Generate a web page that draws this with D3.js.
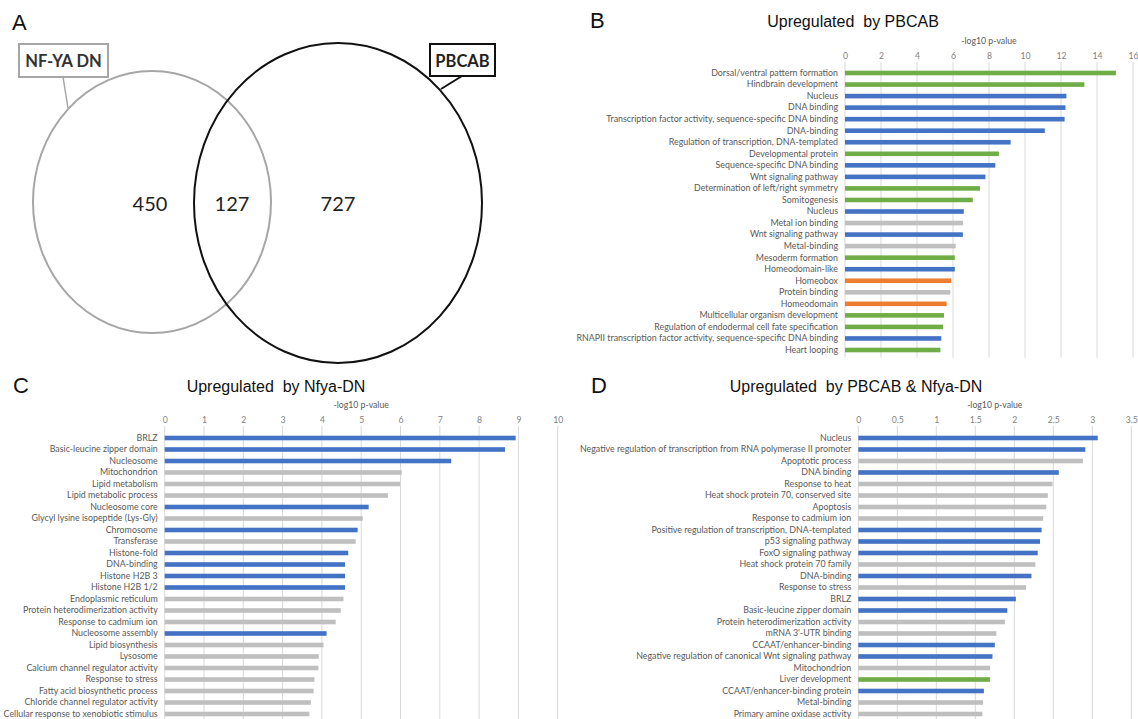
<!DOCTYPE html>
<html><head><meta charset="utf-8">
<script src="https://cdn.jsdelivr.net/npm/d3@7"></script>
<style>body{margin:0;background:#fff}svg{display:block}</style>
</head><body>
<svg id="c" width="1138" height="719"></svg>
<script>
// ---------- DATA ----------
const vennLabels = ["NF-YA DN", "PBCAB"];
const vennCounts = [450, 127, 727]; // only NF-YA DN, both, only PBCAB

const bCats = ["Dorsal/ventral pattern formation","Hindbrain development","Nucleus","DNA binding",
 "Transcription factor activity, sequence-specific DNA binding","DNA-binding","Regulation of transcription, DNA-templated",
 "Developmental protein","Sequence-specific DNA binding","Wnt signaling pathway","Determination of left/right symmetry",
 "Somitogenesis","Nucleus ","Metal ion binding","Wnt signaling pathway ","Metal-binding","Mesoderm formation",
 "Homeodomain-like","Homeobox","Protein binding","Homeodomain","Multicellular organism development",
 "Regulation of endodermal cell fate specification","RNAPII transcription factor activity, sequence-specific DNA binding","Heart looping"];
const bVals = [15.05,13.3,12.3,12.25,12.2,11.1,9.2,8.55,8.35,7.8,7.5,7.1,6.6,6.55,6.55,6.15,6.1,6.1,5.9,5.85,5.65,5.5,5.45,5.35,5.3];
const bGroups = ["g","g","b","b","b","b","b","g","b","b","g","g","b","x","b","x","g","b","o","x","o","g","g","b","g"];
const bTicks = [0,2,4,6,8,10,12,14,16];

const cCats = ["BRLZ","Basic-leucine zipper domain","Nucleosome","Mitochondrion","Lipid metabolism","Lipid metabolic process",
 "Nucleosome core","Glycyl lysine isopeptide (Lys-Gly)","Chromosome","Transferase","Histone-fold","DNA-binding",
 "Histone H2B 3","Histone H2B 1/2","Endoplasmic reticulum","Protein heterodimerization activity","Response to cadmium ion",
 "Nucleosome assembly","Lipid biosynthesis","Lysosome","Calcium channel regulator activity","Response to stress",
 "Fatty acid biosynthetic process","Chloride channel regulator activity","Cellular response to xenobiotic stimulus"];
const cVals = [8.93,8.66,7.29,6.03,5.99,5.68,5.19,5.04,4.91,4.86,4.67,4.59,4.59,4.59,4.55,4.48,4.35,4.12,4.04,3.92,3.91,3.81,3.79,3.72,3.68];
const cGroups = ["b","b","b","x","x","x","b","x","b","x","b","b","b","b","x","x","x","b","x","x","x","x","x","x","x"];
const cTicks = [0,1,2,3,4,5,6,7,8,9,10];

const dCats = ["Nucleus","Negative regulation of transcription from RNA polymerase II promoter","Apoptotic process","DNA binding",
 "Response to heat","Heat shock protein 70, conserved site","Apoptosis","Response to cadmium ion",
 "Positive regulation of transcription, DNA-templated","p53 signaling pathway","FoxO signaling pathway",
 "Heat shock protein 70 family","DNA-binding","Response to stress","BRLZ","Basic-leucine zipper domain",
 "Protein heterodimerization activity","mRNA 3'-UTR binding","CCAAT/enhancer-binding",
 "Negative regulation of canonical Wnt signaling pathway","Mitochondrion","Liver development",
 "CCAAT/enhancer-binding protein","Metal-binding","Primary amine oxidase activity"];
const dVals = [3.07,2.91,2.88,2.57,2.49,2.43,2.41,2.37,2.35,2.33,2.3,2.27,2.22,2.15,2.02,1.91,1.88,1.77,1.75,1.72,1.69,1.69,1.61,1.6,1.59];
const dGroups = ["b","b","x","b","x","x","x","x","b","b","b","x","b","x","b","b","x","x","b","b","x","g","b","x","x"];
const dTicks = [0,0.5,1,1.5,2,2.5,3,3.5];

// ---------- STYLE ----------
const groupColor = {b:"#4472C4", g:"#70AD47", o:"#ED7D31", x:"#BFBFBF"};
const svg = d3.select("#c");
const labelFont = "Lato, 'Open Sans', sans-serif";
const titleFont = "'Liberation Sans', Arial, sans-serif";

// ---------- PANEL A: VENN ----------
(function(){
  const g = svg.append("g");
  g.append("text").attr("x",12).attr("y",30).attr("font-family",titleFont).attr("font-size",22).attr("fill","#111").text("A");
  g.append("ellipse").attr("cx",152).attr("cy",202).attr("rx",119).attr("ry",131)
    .attr("fill","none").attr("stroke","#a6a6a6").attr("stroke-width",2);
  g.append("ellipse").attr("cx",338).attr("cy",203).attr("rx",144).attr("ry",160)
    .attr("fill","none").attr("stroke","#111").attr("stroke-width",2);
  g.append("line").attr("x1",63).attr("y1",77).attr("x2",68).attr("y2",108).attr("stroke","#a6a6a6").attr("stroke-width",1.5);
  g.append("line").attr("x1",462).attr("y1",76).attr("x2",441).attr("y2",89).attr("stroke","#111").attr("stroke-width",2);
  g.append("rect").attr("x",19).attr("y",44).attr("width",89).attr("height",33).attr("fill","#fff").attr("stroke","#a6a6a6").attr("stroke-width",2);
  g.append("text").attr("x",63.5).attr("y",66.5).attr("text-anchor","middle").attr("font-family",labelFont).attr("font-size",16.5).attr("font-weight","bold").attr("fill","#333").text(vennLabels[0]);
  g.append("rect").attr("x",430).attr("y",44).attr("width",65).attr("height",32).attr("fill","#fff").attr("stroke","#111").attr("stroke-width",2);
  g.append("text").attr("x",462.5).attr("y",66.5).attr("text-anchor","middle").attr("font-family",labelFont).attr("font-size",16.5).attr("font-weight","bold").attr("fill","#222").text(vennLabels[1]);
  const cx = [150, 232, 338];
  g.selectAll("text.cnt").data(vennCounts).enter().append("text").attr("class","cnt")
    .attr("x",(d,i)=>cx[i]).attr("y",211).attr("text-anchor","middle")
    .attr("font-family",labelFont).attr("font-size",20).attr("fill","#222").text(d=>d);
})();

// ---------- BAR PANELS ----------
function panel(o){
  const g = svg.append("g");
  const x = d3.scaleLinear().domain([0, o.max]).range([o.x0, o.x1]);
  const step = (o.yLast - o.yFirst)/(o.cats.length-1);
  const y = d3.scaleBand().domain(o.cats).range([o.yFirst - step/2, o.yLast + step/2]).padding(0);
  g.append("text").attr("x",o.letterX).attr("y",o.titleY+1).attr("font-family",titleFont).attr("font-size",22).attr("fill","#111").text(o.letter);
  g.append("text").attr("x",o.titleX).attr("y",o.titleY).attr("text-anchor","middle").attr("font-family",titleFont)
    .attr("font-size",16).attr("fill","#111").style("white-space","pre").attr("xml:space","preserve").text(o.title);
  g.append("text").attr("x",(o.x0+o.x1)/2).attr("y",o.tickY-11).attr("text-anchor","middle").attr("font-family",labelFont)
    .attr("font-size",8.7).attr("fill","#595959").text("-log10 p-value");
  const gridBottom = o.yLast + step/2 + 2;
  g.append("g").selectAll("line").data(o.ticks).enter().append("line")
    .attr("x1",d=>x(d)).attr("x2",d=>x(d)).attr("y1",o.tickY+7).attr("y2",gridBottom)
    .attr("stroke","#d9d9d9").attr("stroke-width",1);
  const ax = g.append("g").attr("transform",`translate(0,${o.tickY+4})`)
    .call(d3.axisTop(x).tickValues(o.ticks).tickSize(0).tickPadding(0).tickFormat(d=>String(d)));
  ax.select(".domain").remove();
  ax.selectAll("text").attr("font-family",labelFont).attr("font-size",8.7).attr("fill","#7f7f7f");
  const ay = g.append("g").attr("transform",`translate(${o.x0},0)`)
    .call(d3.axisLeft(y).tickSize(0).tickPadding(7));
  ay.select(".domain").remove();
  ay.selectAll("text").attr("font-family",labelFont).attr("font-size",o.labelSize).attr("fill","#595959");
  g.append("g").selectAll("rect").data(o.vals).enter().append("rect")
    .attr("x",x(0)).attr("y",(d,i)=>y(o.cats[i])+y.bandwidth()/2 - 2.3)
    .attr("width",d=>x(d)-x(0)).attr("height",4.6)
    .attr("fill",(d,i)=>groupColor[o.groups[i]]);
}

panel({letter:"B", letterX:590, title:"Upregulated  by PBCAB", titleX:853, titleY:27,
  cats:bCats, vals:bVals, groups:bGroups, ticks:bTicks, max:16,
  x0:845, x1:1133, tickY:55, yFirst:73, yLast:350, labelSize:8.85});
panel({letter:"C", letterX:13, title:"Upregulated  by Nfya-DN", titleX:276, titleY:392,
  cats:cCats, vals:cVals, groups:cGroups, ticks:cTicks, max:10,
  x0:164.7, x1:557.7, tickY:419, yFirst:438, yLast:714, labelSize:8.85});
panel({letter:"D", letterX:591, title:"Upregulated  by PBCAB & Nfya-DN", titleX:856, titleY:392,
  cats:dCats, vals:dVals, groups:dGroups, ticks:dTicks, max:3.5,
  x0:858.3, x1:1131.3, tickY:419, yFirst:438, yLast:714, labelSize:8.85});
</script>
</body></html>
